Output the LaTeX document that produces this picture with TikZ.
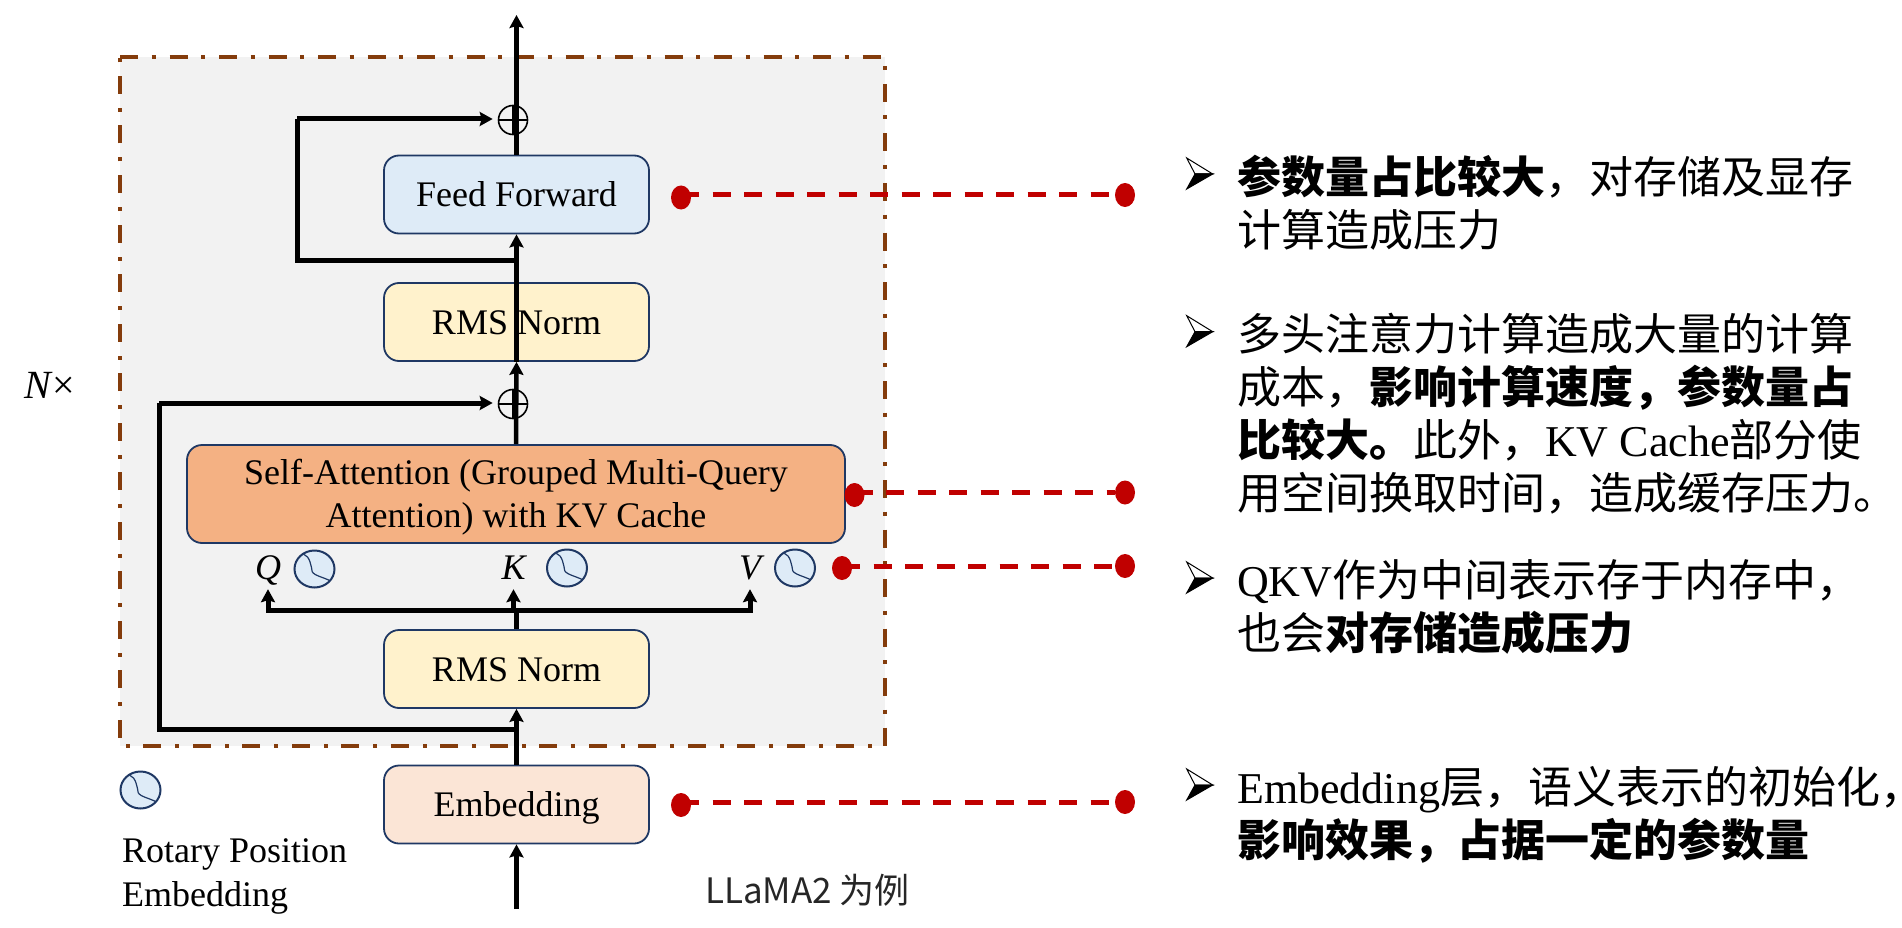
\documentclass[tikz,border=0pt]{standalone}
\usepackage{fontspec}
\setmainfont{Liberation Serif}
\newfontfamily\cjk{Noto Sans CJK SC}
\usepackage{xcolor}
\usetikzlibrary{arrows.meta}
\usetikzlibrary{shapes.geometric}
\definecolor{edgeblue}{HTML}{1F3864}
\definecolor{framebrown}{HTML}{843C0C}
\definecolor{framegray}{HTML}{F2F2F2}
\definecolor{dotred}{HTML}{C00000}
\definecolor{fillff}{HTML}{DEEBF7}
\definecolor{fillrms}{HTML}{FFF2CC}
\definecolor{fillsa}{HTML}{F4B183}
\definecolor{fillemb}{HTML}{FBE5D6}
\newcommand{\zh}[1]{{\cjk #1}}
\newcommand{\zb}[1]{{\cjk\bfseries #1}}
\tikzset{
  blocknode/.style = {align=center, inner sep=0pt, rectangle, rounded corners=15pt,
    draw=edgeblue, line width=1.8pt, text height=24pt, text depth=0pt,
    font=\fontsize{36}{43}\selectfont},
  blk_w/.style = {blocknode, minimum width=265pt, minimum height=78pt},% narrow block
  blk_s/.style = {blocknode, fill=fillsa, text height=67pt, minimum width=658pt, minimum height=98pt},% self attention
  add_n/.style = {circle, draw=black, line width=1.6pt, minimum size=29pt, inner sep=0pt,
    path picture={\draw[line width=1.6pt] (path picture bounding box.west) -- (path picture bounding box.east)
      (path picture bounding box.north) -- (path picture bounding box.south);}},% adder
  rot_n/.style = {ellipse, draw=edgeblue, fill=fillff, line width=2pt, inner sep=0pt,
    minimum width=40pt, minimum height=37pt,
    path picture={\draw[line width=1.2pt, shift={(path picture bounding box.center)}] (-10.7,-14.7)
      .. controls +(6,2) and +(-1,-6) .. (-2.3,2.7) .. controls +(2,4) and +(-5,-3) .. (15.3,11.7);}},% rotary icon
  red_d/.style = {ellipse, fill=dotred, inner sep=0pt, minimum width=20pt, minimum height=24pt},% red dot
  lab_t/.style = {inner sep=0pt, font=\fontsize{36}{44}\selectfont\itshape,
    text height=24pt, text depth=0pt, minimum height=44pt},
  note_t/.style = {inner sep=0pt, anchor=west, align=left, font=\fontsize{44}{53}\selectfont},
  tickmark/.pic = {\draw[line width=1pt, fill=white] (-13.3,-16) -- (12.7,0) -- (-5,0) -- cycle;
    \draw[line width=1pt, fill=black] (-13.3,15) -- (12.7,0) -- (-5,0) -- cycle;},
  frameline/.style = {draw=framebrown, fill=framegray, line width=4.5pt,
    dash pattern=on 18pt off 13.5pt on 4pt off 14pt},
  mainline/.style = {line width=4.5pt},
  skipline/.style = {line width=5pt},
  redline/.style = {draw=dotred, line width=5pt, dash pattern=on 18pt off 13.5pt}
}

\begin{document}
\begin{tikzpicture}[x=1pt,y=-1pt,>={Stealth[length=13pt,width=14pt,inset=2pt]}]
\useasboundingbox (0,0) rectangle (1902,928);
\coordinate (ftl) at (120,57);
\coordinate (fbr) at (885,746);
\draw[frameline] (ftl) -- (ftl -| fbr) -- (fbr) -- (fbr -| ftl) -- cycle;

\node [blk_w, fill=fillff] (ff) at (516.5,194.5) {Feed Forward};
\node [blk_w, fill=fillrms] (rms1) at (516.5,322) {RMS Norm};
\node [blk_s] (sa) at (516,494) {Self-Attention (Grouped Multi-Query\\Attention) with KV Cache};
\node [blk_w, fill=fillrms] (rms2) at (516.5,669) {RMS Norm};
\node [blk_w, fill=fillemb] (emb) at (516.5,804.5) {Embedding};
\node [add_n] (add1) at (513,120) {};
\node [add_n] (add2) at (513,404) {};

\node [lab_t] (q) at (268,567) {Q};
\node [lab_t] (k) at (513.5,567) {K};
\node [lab_t] (v) at (750,567) {V};
\node [rot_n] (rq) at (q) [xshift=46.5pt,yshift=-2pt] {};
\node [rot_n] (rk) at (k) [xshift=53.5pt,yshift=-1pt] {};
\node [rot_n] (rv) at (v) [xshift=45pt,yshift=-1pt] {};
\node [rot_n] (rleg) at (140.5,790) {};

\coordinate (top) at (516.5,15);
\coordinate (inp) at (516.5,909);
\coordinate (bus) at (516.5,610);
\coordinate (sk1) at (516.5,260);
\coordinate (sk1c) at (297,119);
\coordinate (sk2) at (516.5,729);
\coordinate (sk2c) at (159,403);

\draw[mainline,->] (inp) -- (emb.south);
\draw[mainline,->] (emb.north) -- (rms2.south);
\draw[mainline] (rms2.north) -- (bus);
\draw[skipline,->] (bus) -| (q.south);
\draw[skipline,->] (bus) -| (v.south);
\draw[mainline,->] (k.south |- bus) -- (k.south);
\draw[mainline,->] (sa.north) -- (rms1.south);
\draw[mainline,->] (rms1.south) -- (ff.south);
\draw[mainline,->] (ff.north) -- (top);
\draw[skipline] (sk1) -- (sk1 -| sk1c) -- (sk1c);
\draw[skipline,->,shorten >=5pt] (sk1c) -- (sk1c -| add1.west);
\draw[skipline] (sk2) -- (sk2 -| sk2c) -- (sk2c);
\draw[skipline,->,shorten >=5pt] (sk2c) -- (sk2c -| add2.west);

\node [red_d] (ffl) at (681,197.5) {};
\node [red_d] (ffr) at (1125,195) {};
\node [red_d] (sal) at (854.5,495) {};
\node [red_d] (sar) at (1125,492.5) {};
\node [red_d] (vl) at (842,568) {};
\node [red_d] (vr) at (1125,566) {};
\node [red_d] (embl) at (681,805) {};
\node [red_d] (embr) at (1125,802) {};
\draw[redline] (ffl |- ffr) -- (ffr);
\draw[redline] (sal |- sar) -- (sar);
\draw[redline] (vl |- vr) -- (vr);
\draw[redline] (embl |- embr) -- (embr);

\node [inner sep=0pt, font=\fontsize{40}{40}\selectfont] (nx) at (50,385) {\textit{N}×};
\node [inner sep=0pt, anchor=west, align=left, text height=67.3pt, text depth=0pt,
  font=\fontsize{36}{43.3}\selectfont] (rlab) at (122,872.4) {Rotary Position\\Embedding};
\node [inner sep=0pt, text=black!85, font=\fontsize{35}{35}\selectfont\cjk] (ex) at (807.5,890) {LLaMA2 为例};

\pic at (1200,174) {tickmark};
\pic at (1200,331.7) {tickmark};
\pic at (1200,578) {tickmark};
\pic at (1200,785) {tickmark};
\node [note_t] (n1) at (1237,202.5) {\zb{参数量占比较大}\zh{，对存储及显存}\\\zh{计算造成压力}};
\node [note_t] (n2) at (1237,413.5) {\zh{多头注意力计算造成大量的计算}\\\zh{成本，}\zb{影响计算速度，参数量占}\\\zb{比较大。}\zh{此外，}KV Cache\zh{部分使}\\\zh{用空间换取时间，造成缓存压力。}};
\node [note_t] (n3) at (1237,607) {QKV\zh{作为中间表示存于内存中，}\\\zh{也会}\zb{对存储造成压力}};
\node [note_t] (n4) at (1237,814.5) {Embedding\zh{层，语义表示的初始化，}\\\zb{影响效果，占据一定的参数量}};
\end{tikzpicture}
\end{document}
